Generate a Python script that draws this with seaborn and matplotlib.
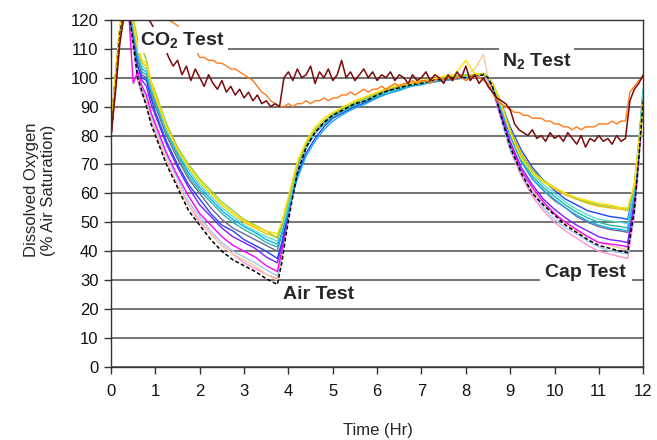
import matplotlib
matplotlib.use('Agg')

import numpy as np
import matplotlib.pyplot as plt
import seaborn as sns

# time axis (hr) for the Air / Cap test probes
t_bunch = [0, 0.1, 0.2, 0.3, 0.4, 0.5, 0.6, 0.7, 0.8, 0.9, 1.0,
           1.25, 1.5, 1.75, 2.0, 2.25, 2.5, 2.75, 3.0, 3.25, 3.5, 3.75,
           3.85, 3.95, 4.05, 4.2, 4.4, 4.6, 4.8, 5.0, 5.25, 5.5, 5.75, 6.0, 6.25,
           6.5, 6.75, 7.0, 7.25, 7.5, 7.75, 8.0, 8.2, 8.4,
           8.5, 8.6, 8.75, 9.0, 9.25, 9.5, 9.75, 10.0, 10.25, 10.5, 10.75,
           11.0, 11.25, 11.5, 11.65,
           11.8, 11.9, 12.0]

# dissolved oxygen (% air saturation), one list per probe
do_green = [84, 100, 117, 125, 127, 121, 113, 110, 106, 99, 95,
            84, 76, 70, 65, 61, 57, 54, 51, 49, 47, 44.5,
            49, 55, 61, 70, 77, 82, 85, 87.5, 89.5, 91.5, 93, 94.5, 96, 97, 98, 98.5, 99, 100, 100.5, 101, 101, 101.5,
            100, 98, 93, 82, 73, 68, 64.5, 62, 60, 58, 57, 56, 55.5, 55, 54.5,
            62, 77, 90]
do_yellow = [83, 101, 118, 125, 126, 120, 111, 106, 105, 99, 94,
             83, 75, 69, 64, 60, 56, 53, 50.5, 48.5, 47, 46,
             50, 56, 62, 71, 78, 83, 86, 88, 90, 92, 93.5, 95, 96.5, 97.5, 98, 99, 99.5, 100.5, 101, 106, 101.5, 101,
             100, 98, 93, 81, 72, 67, 64, 62, 60, 58.5, 57.5, 56.5, 56, 55, 55,
             63, 77, 89]
do_gold = [83, 101, 118, 125, 125, 119, 110, 105, 104, 98, 93,
           83, 75, 69, 64, 60, 56, 53, 50, 48, 46, 45,
           49, 55, 61, 70, 77, 82, 85, 87.5, 89.5, 91.5, 93, 94.5, 96, 97, 98, 98.5, 99.5, 100, 100.5, 101, 101, 101.5,
           100, 98, 93, 82, 74, 68, 64, 61.5, 59.5, 58, 56.5, 55.5, 55, 54.5, 54,
           63, 78, 92]
do_turquoise = [82, 101, 118, 125, 125, 118, 109, 104, 103, 97, 93,
                82, 75, 68, 63, 59, 55, 52, 49, 47, 45, 43.5,
                48, 53, 59, 68, 76, 81, 84.5, 87, 89, 91, 92.5, 94, 95, 96.5, 97.5, 98, 99, 99.5, 100, 100.5, 100.5, 101,
                100, 98, 92, 82, 73, 67, 63, 60, 57, 54.5, 52.5, 51, 50.5, 50, 49.5,
                62, 78, 96]
do_cyan = [81, 100, 117, 125, 124, 117, 108, 103, 102, 96, 92,
           82, 74, 67, 62, 58, 54, 51, 48.5, 46.5, 44, 42.5,
           46, 51, 57, 65, 73, 78, 82, 85, 87.5, 89.5, 91, 93, 94.5, 95.5, 97, 97.5, 98.5, 99, 99.5, 100, 100.5, 101,
           100, 97, 91, 80, 71, 65, 61, 58, 55, 52.5, 50.5, 49, 48, 47.5, 47,
           60, 76, 96]
do_teal = [82, 100, 117, 125, 124, 116, 107, 102, 101, 95, 91,
           81, 73, 66, 61, 57, 53, 50, 47.5, 45.5, 43, 41.5,
           46, 52, 59, 68, 76, 81, 84, 86.5, 88.5, 90.5, 92, 93.5, 95, 96, 97, 98, 98.5, 99.5, 100, 100, 100.5, 101,
           100, 98, 92, 81, 72, 66, 62, 59, 56, 53.5, 51.5, 50, 49, 48.5, 48,
           61, 77, 95]
do_royal = [82, 100, 117, 124, 123, 115, 104, 100, 99, 93, 88,
            78, 70, 63, 58, 53, 49, 47, 44, 42, 40, 37.5,
            43, 50, 57, 66, 74, 79, 83, 86, 88, 90, 91.5, 93, 95, 96, 97, 98, 98.5, 99, 99.5, 100, 100.5, 101,
            100, 98, 93, 83, 75, 69, 64.5, 61, 58, 56, 54, 53, 52, 51.5, 51,
            62, 77, 95]
do_slate = [81, 100, 117, 124, 124, 116, 106, 101, 100, 94, 90,
            80, 72, 65, 60, 55, 51, 48, 46, 44, 42, 40,
            46, 52, 59, 68, 76, 81, 84.5, 87, 89, 91, 92.5, 94, 95, 96.5, 97.5, 98, 99, 99.5, 100, 100, 100.5, 101,
            100, 98, 91, 80, 71, 65, 61, 57.5, 55, 52, 50, 48.5, 47.5, 47, 46.5,
            60, 76, 95]
do_purple = [82, 100, 117, 124, 123, 114, 104, 99, 97, 91, 87,
             77, 69, 62, 56, 52, 48, 45, 43, 41, 38, 36,
             42, 50, 58, 68, 76, 81, 84, 86.5, 89, 91, 92.5, 94, 95.5, 96.5, 97.5, 98.5, 99, 99.5, 100, 100, 100.5, 101,
             100, 97, 90, 78, 69, 63, 58, 54.5, 51.5, 49, 47, 45, 44, 43.5, 43,
             57, 74, 94]
do_magenta = [81, 99, 116, 124, 122, 98, 102, 97, 94, 88, 84,
              74, 66, 59, 53, 49, 45, 42, 40, 38, 35, 33,
              40, 49, 57, 68, 76, 81, 84.5, 87, 89, 91, 92.5, 94, 95.5, 96.5, 97.5, 98, 99, 99.5, 100, 100.5, 100.5, 101,
              100, 97, 89, 77, 68, 62, 57, 53, 50, 47.5, 45, 43, 42.5, 42, 41.5,
              56, 73, 94]
do_lightblue = [80, 99, 116, 123, 122, 112, 101, 96, 93, 87, 83,
                73, 65, 57, 52, 47, 43, 40, 38, 36, 33.5, 31.5,
                39, 48, 56, 67, 76, 81, 84, 86.5, 89, 91, 92, 93.5, 95, 96.5, 97.5, 98, 98.5, 99.5, 100, 100, 100.5, 101,
                99, 96, 88, 75, 67, 60, 55, 51, 48, 46, 43.5, 41.5, 40, 39.5, 39,
                53, 71, 93]
do_peach = [81, 98, 115, 122, 122, 111, 100, 95, 92, 86, 82,
            71, 63, 56, 51, 46, 42, 39, 37, 35, 32, 30,
            38, 47, 56, 67, 76, 81, 85, 87, 89, 91.5, 92, 94, 96, 96.5, 98, 98.5, 99.5, 100, 101, 101, 103, 108,
            100, 97, 89, 76, 67, 61, 56, 53, 49.5, 47, 45, 43, 42, 41, 40.5,
            55, 73, 94]
do_pink = [80, 98, 116, 123, 121, 110, 99, 94, 91, 85, 81,
           71, 63, 56, 50, 46, 42, 39, 36, 34, 32, 30.5,
           38, 47, 56, 67, 76, 81, 84, 87, 89.5, 91, 92.5, 94, 95, 97, 97, 98.5, 99, 99, 100, 100.5, 100, 101,
           99, 96, 88, 75, 66, 59, 54, 50, 47, 44.5, 42, 40, 39, 38, 37.5,
           52, 70, 93]
do_black = [79, 97, 115, 124, 123, 112, 100, 95, 90, 84, 80,
            70, 62, 54, 49, 44, 40, 37, 35, 33, 30.5, 28.5,
            36, 46, 55, 67, 76, 81, 84.5, 87, 89, 91, 92, 94, 95.5, 96.5, 97.5, 98, 99, 99.5, 100, 100, 100.5, 101,
            100, 97, 89, 76, 67, 60, 56, 52.5, 49, 46.5, 44, 42, 41, 40, 39.5,
            54, 72, 92]

# CO2 and N2 tests, sampled every 0.1 hr
t_gas = np.round(np.arange(0, 12.05, 0.1), 1)
do_n2 = [80, 95, 112, 122, 125, 124, 122, 120, 121, 119,
         116, 113, 111, 107, 104, 106, 101, 104, 99, 103,
         100, 97, 101, 98, 96, 99, 95, 97, 94, 96,
         93, 95, 92, 94, 91, 92, 90, 91, 90, 100,
         102, 99, 103, 100, 101, 104, 98, 102, 100, 103,
         99, 101, 106, 100, 102, 99, 101, 103, 100, 102,
         99, 101, 100, 102, 99, 101, 100, 98, 101, 99,
         100, 102, 99, 101, 100, 98, 101, 99, 102, 100,
         104, 99, 101, 98, 100, 97, 95, 93, 92, 91,
         89, 84, 82, 81, 80, 82, 79, 80, 78, 81,
         79, 80, 78, 81, 79, 77, 80, 76, 79, 78,
         80, 78, 79, 77, 80, 78, 79, 92, 96, 98,
         101]
do_co2 = [80, 96, 113, 123, 126, 127, 126, 125, 124, 123,
          122, 121, 120, 120, 119, 118, 116, 114, 112, 110,
          107, 107, 106, 106, 105, 105, 104, 103, 103, 102,
          101, 100, 99, 97, 95, 94, 92, 91, 90, 90,
          91, 90, 91, 91, 92, 91, 92, 92, 93, 92,
          93, 93, 94, 94, 95, 94, 95, 96, 95, 96,
          96, 97, 96, 97, 98, 97, 98, 98, 99, 98,
          99, 99, 98, 99, 100, 99, 100, 99, 100, 100,
          99, 100, 101, 100, 99, 98, 95, 92, 91, 90,
          89, 88, 88, 87, 87, 86, 86, 86, 85, 85,
          84, 84, 83, 83, 82, 83, 82, 83, 83, 83,
          84, 84, 84, 85, 84, 85, 85, 95, 97, 99,
          100]

sns.set_style('white')
plt.rcParams['font.family'] = ['Liberation Sans', 'DejaVu Sans']
plt.rcParams['mathtext.default'] = 'regular'

fig = plt.figure(figsize=(6.57, 4.40), dpi=100)
ax = fig.add_axes([0.169, 0.166, 0.81, 0.789])

probes = [
    (do_pink, '#FF8FD0'),
    (do_peach, '#F9C89B'),
    (do_lightblue, '#9CCBF5'),
    (do_magenta, '#FF00FF'),
    (do_purple, '#7A1FFF'),
    (do_slate, '#6A6A92'),
    (do_royal, '#1F45FF'),
    (do_teal, '#2BB5A8'),
    (do_cyan, '#14AEEF'),
    (do_turquoise, '#52E0D2'),
    (do_gold, '#F5BE0A'),
    (do_green, '#9ACD32'),
    (do_yellow, '#FFE000'),
]
for vals, col in probes:
    sns.lineplot(x=t_bunch, y=vals, color=col, lw=1.0, ax=ax)
sns.lineplot(x=t_bunch, y=do_black, color='black', lw=1.1, ax=ax)
ax.lines[-1].set_linestyle((0, (2.5, 1.5)))

sns.lineplot(x=t_gas, y=do_co2, color='#FF7A1A', lw=1.0, ax=ax)
sns.lineplot(x=t_gas, y=do_n2, color='#7A0A0A', lw=1.1, ax=ax)

ax.set_xlim(0, 12)
ax.set_ylim(0, 120)
ax.set_xticks(range(0, 13))
ax.set_yticks(range(0, 121, 10))
ax.yaxis.grid(True, color='#4d4d4d', lw=1.1)
ax.xaxis.grid(False)
ax.set_axisbelow(True)
for s in ax.spines.values():
    s.set_color('#333333')
    s.set_linewidth(1.0)
ax.tick_params(bottom=True, left=True, direction='out', length=5, width=1,
               color='#333333', labelsize=12, labelcolor='#111111')
ax.tick_params(axis='x', pad=7)
ax.tick_params(axis='y', pad=4)
ax.set_xlabel('')
ax.set_ylabel('')

fig.text(378 / 657, 1 - 430 / 440, 'Time (Hr)', ha='center', va='center', fontsize=12)
fig.text(40 / 657, 1 - 190 / 440, 'Dissolved Oxygen\n(% Air Saturation)', ha='center',
         va='center', rotation=90, fontsize=12, linespacing=1.15)

box = dict(facecolor='white', edgecolor='none', pad=2)
ax.text(1.62, 113, 'CO$_2$ Test', ha='center', va='center', fontsize=14,
        fontweight='bold', bbox=box, zorder=5)
ax.text(9.6, 105.8, 'N$_2$ Test', ha='center', va='center', fontsize=14,
        fontweight='bold', bbox=box, zorder=5)
ax.text(4.67, 25, 'Air Test', ha='center', va='center', fontsize=14,
        fontweight='bold', bbox=box, zorder=5)
ax.text(10.7, 32.5, 'Cap Test', ha='center', va='center', fontsize=14,
        fontweight='bold', bbox=dict(facecolor='white', edgecolor='none', pad=4), zorder=5)

plt.savefig('out.png', dpi=100)
plt.close()
